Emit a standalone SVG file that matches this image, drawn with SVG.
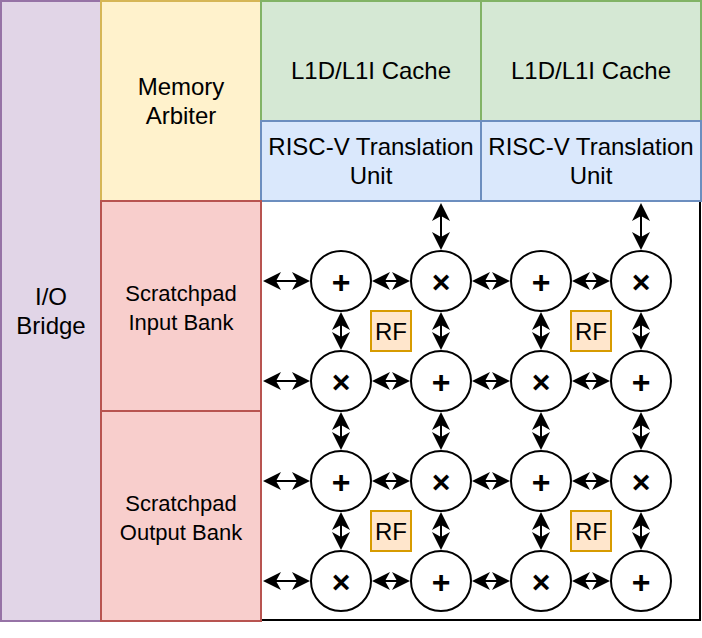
<svg xmlns="http://www.w3.org/2000/svg" xmlns:xlink="http://www.w3.org/1999/xlink" width="702" height="638" viewBox="0 0 702 638">
<style>
text{font-family:"Liberation Sans",Arial,sans-serif;fill:#000;text-anchor:middle}
.t24{font-size:24px}
.t22{font-size:22px}
.op{font-size:32px;font-weight:bold}
.box{stroke-width:2}
.io{fill:#e1d5e7;stroke:#9673a6}
.ma{fill:#fff2cc;stroke:#d6b656}
.l1{fill:#d5e8d4;stroke:#82b366}
.rv{fill:#dae8fc;stroke:#6c8ebf}
.sp{fill:#f8cecc;stroke:#b85450}
.rf{fill:#ffe6cc;stroke:#d79b00;stroke-width:2}
.pe{fill:#fff;stroke:#000;stroke-width:2}
.frame{fill:#fff;stroke:#000;stroke-width:2}
.c path.ln{stroke:#000;stroke-width:2;fill:none}
</style>
<defs>
<path id="hd" d="M0,0 L-18,-9 L-13,0 L-18,9 Z" fill="#000"/>
</defs>
<rect width="702" height="638" fill="#fff"/>
<g id="pe-array-frame"><rect class="frame" x="261" y="201" width="439" height="419"/></g>
<g id="io-bridge"><rect class="box io" x="1" y="1" width="100" height="620"/><text class="t24" x="51" y="305">I/O</text><text class="t24" x="51" y="334">Bridge</text></g>
<g id="memory-arbiter"><rect class="box ma" x="101" y="1" width="160" height="200"/><text class="t24" x="181" y="95">Memory</text><text class="t24" x="181" y="124">Arbiter</text></g>
<g id="l1-cache-1"><rect class="box l1" x="261" y="1" width="220" height="120"/><text class="t24" x="371" y="79">L1D/L1I Cache</text></g>
<g id="l1-cache-2"><rect class="box l1" x="481" y="1" width="220" height="120"/><text class="t24" x="591" y="79">L1D/L1I Cache</text></g>
<g id="riscv-tu-1"><rect class="box rv" x="261" y="121" width="220" height="80"/><text class="t24" x="371" y="155">RISC-V Translation</text><text class="t24" x="371" y="184">Unit</text></g>
<g id="riscv-tu-2"><rect class="box rv" x="481" y="121" width="220" height="80"/><text class="t24" x="591" y="155">RISC-V Translation</text><text class="t24" x="591" y="184">Unit</text></g>
<g id="scratchpad-input"><rect class="box sp" x="101" y="201" width="160" height="210"/><text class="t22" x="181" y="301">Scratchpad</text><text class="t22" x="181" y="330">Input Bank</text></g>
<g id="scratchpad-output"><rect class="box sp" x="101" y="411" width="160" height="210"/><text class="t22" x="181" y="511">Scratchpad</text><text class="t22" x="181" y="540">Output Bank</text></g>
<g id="connectors" class="c">
<path class="ln" d="M441,208V245 M641,208V245
M268,281H305 M377,281H405 M477,281H505 M577,281H605
M268,381H305 M377,381H405 M477,381H505 M577,381H605
M268,481H305 M377,481H405 M477,481H505 M577,481H605
M268,581H305 M377,581H405 M477,581H505 M577,581H605
M341,317V345 M441,317V345 M541,317V345 M641,317V345
M341,417V445 M441,417V445 M541,417V445 M641,417V445
M341,517V545 M441,517V545 M541,517V545 M641,517V545"/>
<use xlink:href="#hd" transform="translate(441,203) rotate(-90)"/><use xlink:href="#hd" transform="translate(441,250) rotate(90)"/>
<use xlink:href="#hd" transform="translate(641,203) rotate(-90)"/><use xlink:href="#hd" transform="translate(641,250) rotate(90)"/>
<use xlink:href="#hd" transform="translate(263,281) rotate(180)"/><use xlink:href="#hd" transform="translate(310,281)"/>
<use xlink:href="#hd" transform="translate(372,281) rotate(180)"/><use xlink:href="#hd" transform="translate(410,281)"/>
<use xlink:href="#hd" transform="translate(472,281) rotate(180)"/><use xlink:href="#hd" transform="translate(510,281)"/>
<use xlink:href="#hd" transform="translate(572,281) rotate(180)"/><use xlink:href="#hd" transform="translate(610,281)"/>
<use xlink:href="#hd" transform="translate(263,381) rotate(180)"/><use xlink:href="#hd" transform="translate(310,381)"/>
<use xlink:href="#hd" transform="translate(372,381) rotate(180)"/><use xlink:href="#hd" transform="translate(410,381)"/>
<use xlink:href="#hd" transform="translate(472,381) rotate(180)"/><use xlink:href="#hd" transform="translate(510,381)"/>
<use xlink:href="#hd" transform="translate(572,381) rotate(180)"/><use xlink:href="#hd" transform="translate(610,381)"/>
<use xlink:href="#hd" transform="translate(263,481) rotate(180)"/><use xlink:href="#hd" transform="translate(310,481)"/>
<use xlink:href="#hd" transform="translate(372,481) rotate(180)"/><use xlink:href="#hd" transform="translate(410,481)"/>
<use xlink:href="#hd" transform="translate(472,481) rotate(180)"/><use xlink:href="#hd" transform="translate(510,481)"/>
<use xlink:href="#hd" transform="translate(572,481) rotate(180)"/><use xlink:href="#hd" transform="translate(610,481)"/>
<use xlink:href="#hd" transform="translate(263,581) rotate(180)"/><use xlink:href="#hd" transform="translate(310,581)"/>
<use xlink:href="#hd" transform="translate(372,581) rotate(180)"/><use xlink:href="#hd" transform="translate(410,581)"/>
<use xlink:href="#hd" transform="translate(472,581) rotate(180)"/><use xlink:href="#hd" transform="translate(510,581)"/>
<use xlink:href="#hd" transform="translate(572,581) rotate(180)"/><use xlink:href="#hd" transform="translate(610,581)"/>
<use xlink:href="#hd" transform="translate(341,312) rotate(-90)"/><use xlink:href="#hd" transform="translate(341,350) rotate(90)"/>
<use xlink:href="#hd" transform="translate(441,312) rotate(-90)"/><use xlink:href="#hd" transform="translate(441,350) rotate(90)"/>
<use xlink:href="#hd" transform="translate(541,312) rotate(-90)"/><use xlink:href="#hd" transform="translate(541,350) rotate(90)"/>
<use xlink:href="#hd" transform="translate(641,312) rotate(-90)"/><use xlink:href="#hd" transform="translate(641,350) rotate(90)"/>
<use xlink:href="#hd" transform="translate(341,412) rotate(-90)"/><use xlink:href="#hd" transform="translate(341,450) rotate(90)"/>
<use xlink:href="#hd" transform="translate(441,412) rotate(-90)"/><use xlink:href="#hd" transform="translate(441,450) rotate(90)"/>
<use xlink:href="#hd" transform="translate(541,412) rotate(-90)"/><use xlink:href="#hd" transform="translate(541,450) rotate(90)"/>
<use xlink:href="#hd" transform="translate(641,412) rotate(-90)"/><use xlink:href="#hd" transform="translate(641,450) rotate(90)"/>
<use xlink:href="#hd" transform="translate(341,512) rotate(-90)"/><use xlink:href="#hd" transform="translate(341,550) rotate(90)"/>
<use xlink:href="#hd" transform="translate(441,512) rotate(-90)"/><use xlink:href="#hd" transform="translate(441,550) rotate(90)"/>
<use xlink:href="#hd" transform="translate(541,512) rotate(-90)"/><use xlink:href="#hd" transform="translate(541,550) rotate(90)"/>
<use xlink:href="#hd" transform="translate(641,512) rotate(-90)"/><use xlink:href="#hd" transform="translate(641,550) rotate(90)"/>
</g>
<g id="rf-1"><rect class="rf" x="371" y="311" width="40" height="40"/><text class="t24" x="391" y="340">RF</text></g>
<g id="rf-2"><rect class="rf" x="571" y="311" width="40" height="40"/><text class="t24" x="591" y="340">RF</text></g>
<g id="rf-3"><rect class="rf" x="371" y="511" width="40" height="40"/><text class="t24" x="391" y="540">RF</text></g>
<g id="rf-4"><rect class="rf" x="571" y="511" width="40" height="40"/><text class="t24" x="591" y="540">RF</text></g>
<g id="pe-1-1"><circle class="pe" cx="341" cy="281" r="30"/><text class="op" x="341" y="293">+</text></g>
<g id="pe-1-2"><circle class="pe" cx="441" cy="281" r="30"/><text class="op" x="441" y="293">×</text></g>
<g id="pe-1-3"><circle class="pe" cx="541" cy="281" r="30"/><text class="op" x="541" y="293">+</text></g>
<g id="pe-1-4"><circle class="pe" cx="641" cy="281" r="30"/><text class="op" x="641" y="293">×</text></g>
<g id="pe-2-1"><circle class="pe" cx="341" cy="381" r="30"/><text class="op" x="341" y="393">×</text></g>
<g id="pe-2-2"><circle class="pe" cx="441" cy="381" r="30"/><text class="op" x="441" y="393">+</text></g>
<g id="pe-2-3"><circle class="pe" cx="541" cy="381" r="30"/><text class="op" x="541" y="393">×</text></g>
<g id="pe-2-4"><circle class="pe" cx="641" cy="381" r="30"/><text class="op" x="641" y="393">+</text></g>
<g id="pe-3-1"><circle class="pe" cx="341" cy="481" r="30"/><text class="op" x="341" y="493">+</text></g>
<g id="pe-3-2"><circle class="pe" cx="441" cy="481" r="30"/><text class="op" x="441" y="493">×</text></g>
<g id="pe-3-3"><circle class="pe" cx="541" cy="481" r="30"/><text class="op" x="541" y="493">+</text></g>
<g id="pe-3-4"><circle class="pe" cx="641" cy="481" r="30"/><text class="op" x="641" y="493">×</text></g>
<g id="pe-4-1"><circle class="pe" cx="341" cy="581" r="30"/><text class="op" x="341" y="593">×</text></g>
<g id="pe-4-2"><circle class="pe" cx="441" cy="581" r="30"/><text class="op" x="441" y="593">+</text></g>
<g id="pe-4-3"><circle class="pe" cx="541" cy="581" r="30"/><text class="op" x="541" y="593">×</text></g>
<g id="pe-4-4"><circle class="pe" cx="641" cy="581" r="30"/><text class="op" x="641" y="593">+</text></g>
</svg>
